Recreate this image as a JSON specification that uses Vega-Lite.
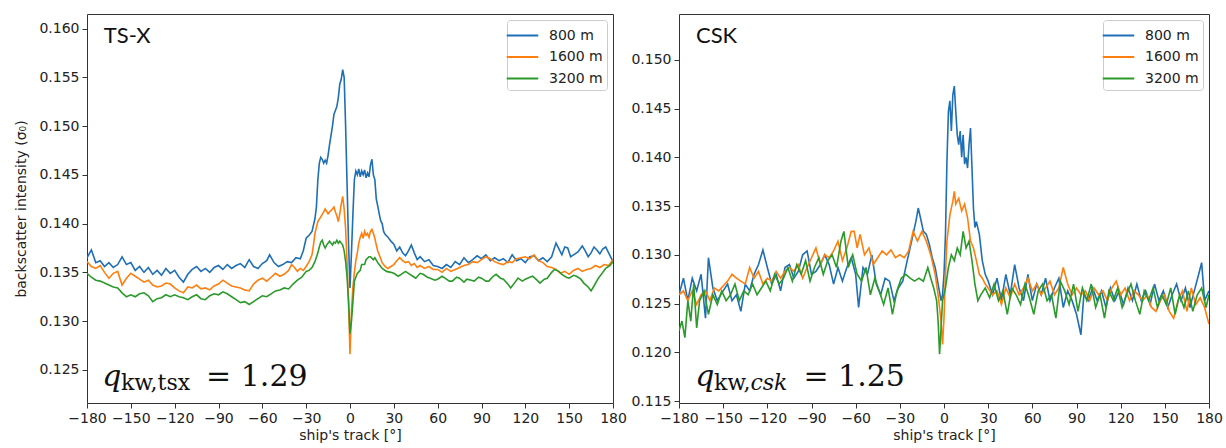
{
"$schema": "https://vega.github.io/schema/vega-lite/v6.json",
"padding": {"left": 14, "top": 13, "right": 2, "bottom": 2},
"background": "white",
"spacing": 66,
"bounds": "flush",
"config": {
  "view": {"stroke": "#333", "strokeWidth": 1},
  "font": "DejaVu Sans",
  "axis": {"grid": false, "domain": false, "tickColor": "#333", "tickSize": 5, "labelFontSize": 14, "labelColor": "#222", "titleFontSize": 14, "titleFontWeight": "normal", "titleColor": "#222", "labelFont": "DejaVu Sans", "titleFont": "DejaVu Sans", "labelPadding": 3, "labelOverlap": false, "labelFlush": false},
  "legend": {"orient": "top-right", "offset": 6, "fillColor": "white", "strokeColor": "#ccc", "cornerRadius": 3, "padding": 4, "labelFontSize": 14, "labelFont": "DejaVu Sans", "labelColor": "#222", "symbolType": "M-1.5,0H1.5", "symbolSize": 441, "symbolStrokeWidth": 2, "rowPadding": 2.5, "labelOffset": 15}
},
"datasets": {
"tsx": [
{"s":"800 m","x":-180,"y":0.1365},{"s":"800 m","x":-177,"y":0.1373},{"s":"800 m","x":-174,"y":0.136},{"s":"800 m","x":-171,"y":0.1362},{"s":"800 m","x":-168,"y":0.1356},{"s":"800 m","x":-165,"y":0.136},{"s":"800 m","x":-162,"y":0.1355},{"s":"800 m","x":-159,"y":0.1358},{"s":"800 m","x":-156,"y":0.1366},{"s":"800 m","x":-153,"y":0.1358},{"s":"800 m","x":-150,"y":0.136},{"s":"800 m","x":-147,"y":0.1352},{"s":"800 m","x":-144,"y":0.1356},{"s":"800 m","x":-141,"y":0.135},{"s":"800 m","x":-138,"y":0.1355},{"s":"800 m","x":-135,"y":0.1348},{"s":"800 m","x":-132,"y":0.1352},{"s":"800 m","x":-129,"y":0.1347},{"s":"800 m","x":-126,"y":0.1354},{"s":"800 m","x":-123,"y":0.1349},{"s":"800 m","x":-120,"y":0.1352},{"s":"800 m","x":-117,"y":0.1345},{"s":"800 m","x":-114,"y":0.134},{"s":"800 m","x":-111,"y":0.1348},{"s":"800 m","x":-108,"y":0.1353},{"s":"800 m","x":-105,"y":0.1356},{"s":"800 m","x":-102,"y":0.1351},{"s":"800 m","x":-99,"y":0.1354},{"s":"800 m","x":-96,"y":0.135},{"s":"800 m","x":-93,"y":0.1355},{"s":"800 m","x":-90,"y":0.1357},{"s":"800 m","x":-87,"y":0.1353},{"s":"800 m","x":-84,"y":0.1358},{"s":"800 m","x":-81,"y":0.1354},{"s":"800 m","x":-78,"y":0.1357},{"s":"800 m","x":-75,"y":0.1359},{"s":"800 m","x":-72,"y":0.1355},{"s":"800 m","x":-69,"y":0.1363},{"s":"800 m","x":-66,"y":0.1356},{"s":"800 m","x":-63,"y":0.1354},{"s":"800 m","x":-60,"y":0.1359},{"s":"800 m","x":-57,"y":0.1362},{"s":"800 m","x":-55,"y":0.1368},{"s":"800 m","x":-52,"y":0.136},{"s":"800 m","x":-49,"y":0.1356},{"s":"800 m","x":-46,"y":0.1358},{"s":"800 m","x":-43,"y":0.1361},{"s":"800 m","x":-40,"y":0.136},{"s":"800 m","x":-37,"y":0.1365},{"s":"800 m","x":-34,"y":0.1364},{"s":"800 m","x":-32,"y":0.1372},{"s":"800 m","x":-30,"y":0.1385},{"s":"800 m","x":-28,"y":0.1388},{"s":"800 m","x":-26,"y":0.1392},{"s":"800 m","x":-24,"y":0.1405},{"s":"800 m","x":-23,"y":0.1417},{"s":"800 m","x":-22,"y":0.1445},{"s":"800 m","x":-21,"y":0.1462},{"s":"800 m","x":-20,"y":0.1468},{"s":"800 m","x":-19,"y":0.1466},{"s":"800 m","x":-18,"y":0.1462},{"s":"800 m","x":-17,"y":0.1465},{"s":"800 m","x":-16,"y":0.1462},{"s":"800 m","x":-15,"y":0.147},{"s":"800 m","x":-14,"y":0.1481},{"s":"800 m","x":-12,"y":0.15},{"s":"800 m","x":-11,"y":0.1512},{"s":"800 m","x":-10,"y":0.1516},{"s":"800 m","x":-9,"y":0.152},{"s":"800 m","x":-8,"y":0.1529},{"s":"800 m","x":-7,"y":0.1543},{"s":"800 m","x":-6,"y":0.1548},{"s":"800 m","x":-5,"y":0.1558},{"s":"800 m","x":-4,"y":0.155},{"s":"800 m","x":-3,"y":0.15},{"s":"800 m","x":-2,"y":0.144},{"s":"800 m","x":-1,"y":0.138},{"s":"800 m","x":0,"y":0.1334},{"s":"800 m","x":1,"y":0.137},{"s":"800 m","x":2,"y":0.141},{"s":"800 m","x":3,"y":0.1445},{"s":"800 m","x":4,"y":0.1454},{"s":"800 m","x":5,"y":0.145},{"s":"800 m","x":6,"y":0.1456},{"s":"800 m","x":7,"y":0.1448},{"s":"800 m","x":8,"y":0.1454},{"s":"800 m","x":9,"y":0.145},{"s":"800 m","x":10,"y":0.1455},{"s":"800 m","x":11,"y":0.1447},{"s":"800 m","x":12,"y":0.1452},{"s":"800 m","x":13,"y":0.1448},{"s":"800 m","x":14,"y":0.146},{"s":"800 m","x":15,"y":0.1466},{"s":"800 m","x":16,"y":0.145},{"s":"800 m","x":17,"y":0.1445},{"s":"800 m","x":18,"y":0.1425},{"s":"800 m","x":19,"y":0.1418},{"s":"800 m","x":20,"y":0.141},{"s":"800 m","x":21,"y":0.1403},{"s":"800 m","x":22,"y":0.14},{"s":"800 m","x":23,"y":0.1392},{"s":"800 m","x":24,"y":0.1389},{"s":"800 m","x":26,"y":0.1386},{"s":"800 m","x":28,"y":0.1382},{"s":"800 m","x":30,"y":0.1379},{"s":"800 m","x":32,"y":0.1372},{"s":"800 m","x":34,"y":0.1376},{"s":"800 m","x":36,"y":0.137},{"s":"800 m","x":38,"y":0.1367},{"s":"800 m","x":40,"y":0.1372},{"s":"800 m","x":42,"y":0.1378},{"s":"800 m","x":44,"y":0.137},{"s":"800 m","x":46,"y":0.1363},{"s":"800 m","x":48,"y":0.1366},{"s":"800 m","x":51,"y":0.1361},{"s":"800 m","x":54,"y":0.1363},{"s":"800 m","x":57,"y":0.1357},{"s":"800 m","x":60,"y":0.1356},{"s":"800 m","x":63,"y":0.1354},{"s":"800 m","x":66,"y":0.1358},{"s":"800 m","x":69,"y":0.1355},{"s":"800 m","x":72,"y":0.1361},{"s":"800 m","x":75,"y":0.1358},{"s":"800 m","x":78,"y":0.1365},{"s":"800 m","x":81,"y":0.136},{"s":"800 m","x":84,"y":0.1363},{"s":"800 m","x":87,"y":0.1367},{"s":"800 m","x":90,"y":0.1364},{"s":"800 m","x":93,"y":0.1368},{"s":"800 m","x":96,"y":0.1362},{"s":"800 m","x":99,"y":0.1365},{"s":"800 m","x":102,"y":0.1362},{"s":"800 m","x":105,"y":0.1364},{"s":"800 m","x":108,"y":0.136},{"s":"800 m","x":111,"y":0.1368},{"s":"800 m","x":114,"y":0.1362},{"s":"800 m","x":117,"y":0.1364},{"s":"800 m","x":120,"y":0.136},{"s":"800 m","x":123,"y":0.1366},{"s":"800 m","x":126,"y":0.1367},{"s":"800 m","x":129,"y":0.1362},{"s":"800 m","x":132,"y":0.1365},{"s":"800 m","x":135,"y":0.1361},{"s":"800 m","x":138,"y":0.1366},{"s":"800 m","x":141,"y":0.138},{"s":"800 m","x":143,"y":0.1374},{"s":"800 m","x":145,"y":0.1368},{"s":"800 m","x":147,"y":0.1376},{"s":"800 m","x":149,"y":0.1375},{"s":"800 m","x":151,"y":0.1366},{"s":"800 m","x":153,"y":0.1368},{"s":"800 m","x":156,"y":0.1371},{"s":"800 m","x":159,"y":0.1377},{"s":"800 m","x":161,"y":0.1372},{"s":"800 m","x":163,"y":0.1366},{"s":"800 m","x":165,"y":0.137},{"s":"800 m","x":167,"y":0.1376},{"s":"800 m","x":169,"y":0.1373},{"s":"800 m","x":171,"y":0.1369},{"s":"800 m","x":173,"y":0.1374},{"s":"800 m","x":175,"y":0.1376},{"s":"800 m","x":177,"y":0.137},{"s":"800 m","x":180,"y":0.1361},
{"s":"1600 m","x":-180,"y":0.1361},{"s":"1600 m","x":-177,"y":0.1356},{"s":"1600 m","x":-174,"y":0.1354},{"s":"1600 m","x":-171,"y":0.1357},{"s":"1600 m","x":-168,"y":0.135},{"s":"1600 m","x":-165,"y":0.1344},{"s":"1600 m","x":-162,"y":0.1349},{"s":"1600 m","x":-159,"y":0.1351},{"s":"1600 m","x":-156,"y":0.1337},{"s":"1600 m","x":-153,"y":0.1344},{"s":"1600 m","x":-150,"y":0.1349},{"s":"1600 m","x":-147,"y":0.1346},{"s":"1600 m","x":-144,"y":0.1343},{"s":"1600 m","x":-141,"y":0.134},{"s":"1600 m","x":-138,"y":0.1342},{"s":"1600 m","x":-135,"y":0.1337},{"s":"1600 m","x":-132,"y":0.1335},{"s":"1600 m","x":-129,"y":0.1336},{"s":"1600 m","x":-126,"y":0.1339},{"s":"1600 m","x":-123,"y":0.1338},{"s":"1600 m","x":-120,"y":0.1334},{"s":"1600 m","x":-117,"y":0.1331},{"s":"1600 m","x":-114,"y":0.1329},{"s":"1600 m","x":-111,"y":0.1335},{"s":"1600 m","x":-108,"y":0.1334},{"s":"1600 m","x":-105,"y":0.1337},{"s":"1600 m","x":-102,"y":0.1333},{"s":"1600 m","x":-99,"y":0.1334},{"s":"1600 m","x":-96,"y":0.1332},{"s":"1600 m","x":-93,"y":0.1336},{"s":"1600 m","x":-90,"y":0.1338},{"s":"1600 m","x":-87,"y":0.1342},{"s":"1600 m","x":-84,"y":0.1339},{"s":"1600 m","x":-81,"y":0.1336},{"s":"1600 m","x":-78,"y":0.1335},{"s":"1600 m","x":-75,"y":0.1334},{"s":"1600 m","x":-72,"y":0.1332},{"s":"1600 m","x":-69,"y":0.1331},{"s":"1600 m","x":-66,"y":0.1338},{"s":"1600 m","x":-63,"y":0.1342},{"s":"1600 m","x":-60,"y":0.1344},{"s":"1600 m","x":-57,"y":0.1341},{"s":"1600 m","x":-54,"y":0.1345},{"s":"1600 m","x":-51,"y":0.1349},{"s":"1600 m","x":-48,"y":0.1346},{"s":"1600 m","x":-45,"y":0.1348},{"s":"1600 m","x":-42,"y":0.1352},{"s":"1600 m","x":-40,"y":0.1358},{"s":"1600 m","x":-38,"y":0.1355},{"s":"1600 m","x":-36,"y":0.1351},{"s":"1600 m","x":-34,"y":0.1354},{"s":"1600 m","x":-32,"y":0.1352},{"s":"1600 m","x":-30,"y":0.1356},{"s":"1600 m","x":-28,"y":0.1361},{"s":"1600 m","x":-26,"y":0.1368},{"s":"1600 m","x":-25,"y":0.1378},{"s":"1600 m","x":-24,"y":0.139},{"s":"1600 m","x":-22,"y":0.1402},{"s":"1600 m","x":-20,"y":0.1407},{"s":"1600 m","x":-18,"y":0.1412},{"s":"1600 m","x":-17,"y":0.1415},{"s":"1600 m","x":-15,"y":0.141},{"s":"1600 m","x":-14,"y":0.1412},{"s":"1600 m","x":-12,"y":0.1415},{"s":"1600 m","x":-11,"y":0.1417},{"s":"1600 m","x":-10,"y":0.1412},{"s":"1600 m","x":-9,"y":0.1408},{"s":"1600 m","x":-8,"y":0.1402},{"s":"1600 m","x":-7,"y":0.141},{"s":"1600 m","x":-6,"y":0.142},{"s":"1600 m","x":-5,"y":0.1428},{"s":"1600 m","x":-4,"y":0.1415},{"s":"1600 m","x":-3,"y":0.1395},{"s":"1600 m","x":-2,"y":0.136},{"s":"1600 m","x":-1,"y":0.132},{"s":"1600 m","x":0,"y":0.1266},{"s":"1600 m","x":1,"y":0.131},{"s":"1600 m","x":2,"y":0.1335},{"s":"1600 m","x":3,"y":0.135},{"s":"1600 m","x":4,"y":0.1362},{"s":"1600 m","x":5,"y":0.137},{"s":"1600 m","x":6,"y":0.138},{"s":"1600 m","x":7,"y":0.1386},{"s":"1600 m","x":8,"y":0.139},{"s":"1600 m","x":9,"y":0.1385},{"s":"1600 m","x":10,"y":0.1392},{"s":"1600 m","x":11,"y":0.1388},{"s":"1600 m","x":12,"y":0.139},{"s":"1600 m","x":13,"y":0.1386},{"s":"1600 m","x":14,"y":0.1392},{"s":"1600 m","x":15,"y":0.1394},{"s":"1600 m","x":16,"y":0.139},{"s":"1600 m","x":17,"y":0.1385},{"s":"1600 m","x":18,"y":0.1378},{"s":"1600 m","x":19,"y":0.1372},{"s":"1600 m","x":20,"y":0.1368},{"s":"1600 m","x":22,"y":0.136},{"s":"1600 m","x":24,"y":0.1356},{"s":"1600 m","x":26,"y":0.1354},{"s":"1600 m","x":28,"y":0.1356},{"s":"1600 m","x":30,"y":0.1358},{"s":"1600 m","x":32,"y":0.1362},{"s":"1600 m","x":34,"y":0.1365},{"s":"1600 m","x":36,"y":0.1362},{"s":"1600 m","x":38,"y":0.136},{"s":"1600 m","x":40,"y":0.1361},{"s":"1600 m","x":42,"y":0.1357},{"s":"1600 m","x":44,"y":0.1359},{"s":"1600 m","x":46,"y":0.1355},{"s":"1600 m","x":48,"y":0.1357},{"s":"1600 m","x":51,"y":0.1354},{"s":"1600 m","x":54,"y":0.1356},{"s":"1600 m","x":57,"y":0.1353},{"s":"1600 m","x":60,"y":0.1353},{"s":"1600 m","x":63,"y":0.135},{"s":"1600 m","x":66,"y":0.1354},{"s":"1600 m","x":69,"y":0.1351},{"s":"1600 m","x":72,"y":0.1353},{"s":"1600 m","x":75,"y":0.1355},{"s":"1600 m","x":78,"y":0.1357},{"s":"1600 m","x":81,"y":0.1358},{"s":"1600 m","x":84,"y":0.1361},{"s":"1600 m","x":87,"y":0.136},{"s":"1600 m","x":90,"y":0.1363},{"s":"1600 m","x":93,"y":0.1366},{"s":"1600 m","x":96,"y":0.1364},{"s":"1600 m","x":99,"y":0.1361},{"s":"1600 m","x":102,"y":0.1359},{"s":"1600 m","x":105,"y":0.1358},{"s":"1600 m","x":108,"y":0.1361},{"s":"1600 m","x":111,"y":0.136},{"s":"1600 m","x":114,"y":0.1364},{"s":"1600 m","x":117,"y":0.1365},{"s":"1600 m","x":120,"y":0.1366},{"s":"1600 m","x":123,"y":0.1364},{"s":"1600 m","x":126,"y":0.1368},{"s":"1600 m","x":129,"y":0.1362},{"s":"1600 m","x":132,"y":0.136},{"s":"1600 m","x":135,"y":0.1356},{"s":"1600 m","x":138,"y":0.1355},{"s":"1600 m","x":141,"y":0.1353},{"s":"1600 m","x":144,"y":0.1349},{"s":"1600 m","x":147,"y":0.1351},{"s":"1600 m","x":150,"y":0.1348},{"s":"1600 m","x":153,"y":0.1352},{"s":"1600 m","x":156,"y":0.1354},{"s":"1600 m","x":159,"y":0.1351},{"s":"1600 m","x":162,"y":0.1353},{"s":"1600 m","x":165,"y":0.1354},{"s":"1600 m","x":168,"y":0.1357},{"s":"1600 m","x":171,"y":0.1355},{"s":"1600 m","x":174,"y":0.1358},{"s":"1600 m","x":177,"y":0.1357},{"s":"1600 m","x":180,"y":0.1363},
{"s":"3200 m","x":-180,"y":0.1349},{"s":"3200 m","x":-177,"y":0.1345},{"s":"3200 m","x":-174,"y":0.1342},{"s":"3200 m","x":-171,"y":0.1341},{"s":"3200 m","x":-168,"y":0.1339},{"s":"3200 m","x":-165,"y":0.1337},{"s":"3200 m","x":-162,"y":0.1335},{"s":"3200 m","x":-159,"y":0.1334},{"s":"3200 m","x":-156,"y":0.1329},{"s":"3200 m","x":-153,"y":0.1325},{"s":"3200 m","x":-150,"y":0.1327},{"s":"3200 m","x":-147,"y":0.1325},{"s":"3200 m","x":-144,"y":0.1328},{"s":"3200 m","x":-141,"y":0.1329},{"s":"3200 m","x":-138,"y":0.1326},{"s":"3200 m","x":-135,"y":0.132},{"s":"3200 m","x":-132,"y":0.1323},{"s":"3200 m","x":-129,"y":0.1324},{"s":"3200 m","x":-126,"y":0.1327},{"s":"3200 m","x":-123,"y":0.1325},{"s":"3200 m","x":-120,"y":0.1327},{"s":"3200 m","x":-117,"y":0.1325},{"s":"3200 m","x":-114,"y":0.1324},{"s":"3200 m","x":-111,"y":0.1322},{"s":"3200 m","x":-108,"y":0.1325},{"s":"3200 m","x":-105,"y":0.1327},{"s":"3200 m","x":-102,"y":0.1323},{"s":"3200 m","x":-99,"y":0.1322},{"s":"3200 m","x":-96,"y":0.1326},{"s":"3200 m","x":-93,"y":0.1328},{"s":"3200 m","x":-90,"y":0.1327},{"s":"3200 m","x":-87,"y":0.133},{"s":"3200 m","x":-84,"y":0.1328},{"s":"3200 m","x":-81,"y":0.1325},{"s":"3200 m","x":-78,"y":0.1322},{"s":"3200 m","x":-75,"y":0.1319},{"s":"3200 m","x":-72,"y":0.132},{"s":"3200 m","x":-69,"y":0.1317},{"s":"3200 m","x":-66,"y":0.132},{"s":"3200 m","x":-63,"y":0.1323},{"s":"3200 m","x":-60,"y":0.1326},{"s":"3200 m","x":-57,"y":0.1325},{"s":"3200 m","x":-54,"y":0.1328},{"s":"3200 m","x":-51,"y":0.1331},{"s":"3200 m","x":-48,"y":0.1332},{"s":"3200 m","x":-45,"y":0.1334},{"s":"3200 m","x":-42,"y":0.1333},{"s":"3200 m","x":-39,"y":0.1338},{"s":"3200 m","x":-36,"y":0.1342},{"s":"3200 m","x":-33,"y":0.1345},{"s":"3200 m","x":-30,"y":0.1351},{"s":"3200 m","x":-28,"y":0.1352},{"s":"3200 m","x":-26,"y":0.1355},{"s":"3200 m","x":-24,"y":0.1361},{"s":"3200 m","x":-22,"y":0.137},{"s":"3200 m","x":-21,"y":0.1376},{"s":"3200 m","x":-20,"y":0.1381},{"s":"3200 m","x":-19,"y":0.1383},{"s":"3200 m","x":-18,"y":0.1378},{"s":"3200 m","x":-17,"y":0.1375},{"s":"3200 m","x":-16,"y":0.1378},{"s":"3200 m","x":-14,"y":0.1382},{"s":"3200 m","x":-13,"y":0.138},{"s":"3200 m","x":-12,"y":0.1378},{"s":"3200 m","x":-11,"y":0.1381},{"s":"3200 m","x":-10,"y":0.138},{"s":"3200 m","x":-9,"y":0.1383},{"s":"3200 m","x":-8,"y":0.138},{"s":"3200 m","x":-7,"y":0.1382},{"s":"3200 m","x":-6,"y":0.138},{"s":"3200 m","x":-5,"y":0.1378},{"s":"3200 m","x":-4,"y":0.1372},{"s":"3200 m","x":-3,"y":0.1361},{"s":"3200 m","x":-2,"y":0.1345},{"s":"3200 m","x":-1,"y":0.132},{"s":"3200 m","x":0,"y":0.1287},{"s":"3200 m","x":1,"y":0.13},{"s":"3200 m","x":2,"y":0.132},{"s":"3200 m","x":3,"y":0.1341},{"s":"3200 m","x":4,"y":0.1345},{"s":"3200 m","x":5,"y":0.1349},{"s":"3200 m","x":7,"y":0.1352},{"s":"3200 m","x":8,"y":0.1358},{"s":"3200 m","x":10,"y":0.1358},{"s":"3200 m","x":11,"y":0.1363},{"s":"3200 m","x":13,"y":0.1366},{"s":"3200 m","x":14,"y":0.1366},{"s":"3200 m","x":16,"y":0.1363},{"s":"3200 m","x":17,"y":0.1365},{"s":"3200 m","x":19,"y":0.136},{"s":"3200 m","x":20,"y":0.1358},{"s":"3200 m","x":22,"y":0.1354},{"s":"3200 m","x":25,"y":0.1351},{"s":"3200 m","x":28,"y":0.135},{"s":"3200 m","x":30,"y":0.1349},{"s":"3200 m","x":33,"y":0.1346},{"s":"3200 m","x":35,"y":0.1348},{"s":"3200 m","x":38,"y":0.1351},{"s":"3200 m","x":40,"y":0.1349},{"s":"3200 m","x":43,"y":0.1346},{"s":"3200 m","x":45,"y":0.1344},{"s":"3200 m","x":48,"y":0.1349},{"s":"3200 m","x":50,"y":0.1348},{"s":"3200 m","x":53,"y":0.1345},{"s":"3200 m","x":55,"y":0.1344},{"s":"3200 m","x":58,"y":0.1342},{"s":"3200 m","x":60,"y":0.1343},{"s":"3200 m","x":63,"y":0.1346},{"s":"3200 m","x":65,"y":0.1344},{"s":"3200 m","x":68,"y":0.1341},{"s":"3200 m","x":70,"y":0.1341},{"s":"3200 m","x":73,"y":0.1345},{"s":"3200 m","x":75,"y":0.1344},{"s":"3200 m","x":78,"y":0.134},{"s":"3200 m","x":80,"y":0.1343},{"s":"3200 m","x":83,"y":0.1342},{"s":"3200 m","x":85,"y":0.1341},{"s":"3200 m","x":88,"y":0.1345},{"s":"3200 m","x":90,"y":0.1344},{"s":"3200 m","x":93,"y":0.1341},{"s":"3200 m","x":95,"y":0.1341},{"s":"3200 m","x":98,"y":0.1346},{"s":"3200 m","x":100,"y":0.1348},{"s":"3200 m","x":103,"y":0.1344},{"s":"3200 m","x":105,"y":0.1343},{"s":"3200 m","x":108,"y":0.1338},{"s":"3200 m","x":110,"y":0.1334},{"s":"3200 m","x":113,"y":0.134},{"s":"3200 m","x":115,"y":0.1344},{"s":"3200 m","x":118,"y":0.1341},{"s":"3200 m","x":120,"y":0.1343},{"s":"3200 m","x":123,"y":0.1345},{"s":"3200 m","x":125,"y":0.1346},{"s":"3200 m","x":128,"y":0.1342},{"s":"3200 m","x":130,"y":0.1339},{"s":"3200 m","x":133,"y":0.1343},{"s":"3200 m","x":135,"y":0.1344},{"s":"3200 m","x":138,"y":0.135},{"s":"3200 m","x":140,"y":0.1353},{"s":"3200 m","x":143,"y":0.1351},{"s":"3200 m","x":145,"y":0.1348},{"s":"3200 m","x":148,"y":0.1345},{"s":"3200 m","x":150,"y":0.1344},{"s":"3200 m","x":153,"y":0.1347},{"s":"3200 m","x":155,"y":0.1346},{"s":"3200 m","x":158,"y":0.1343},{"s":"3200 m","x":160,"y":0.1339},{"s":"3200 m","x":163,"y":0.1335},{"s":"3200 m","x":165,"y":0.1331},{"s":"3200 m","x":167,"y":0.1336},{"s":"3200 m","x":170,"y":0.1344},{"s":"3200 m","x":173,"y":0.135},{"s":"3200 m","x":175,"y":0.1354},{"s":"3200 m","x":178,"y":0.1357},{"s":"3200 m","x":180,"y":0.1361}
],
"csk": [
{"s":"800 m","x":-180,"y":0.1259},{"s":"800 m","x":-177,"y":0.1276},{"s":"800 m","x":-174,"y":0.1253},{"s":"800 m","x":-171,"y":0.1276},{"s":"800 m","x":-168,"y":0.1263},{"s":"800 m","x":-165,"y":0.128},{"s":"800 m","x":-162,"y":0.1235},{"s":"800 m","x":-160,"y":0.1297},{"s":"800 m","x":-157,"y":0.1266},{"s":"800 m","x":-154,"y":0.1253},{"s":"800 m","x":-150,"y":0.1263},{"s":"800 m","x":-147,"y":0.127},{"s":"800 m","x":-144,"y":0.1253},{"s":"800 m","x":-141,"y":0.1259},{"s":"800 m","x":-138,"y":0.1242},{"s":"800 m","x":-135,"y":0.127},{"s":"800 m","x":-132,"y":0.1263},{"s":"800 m","x":-129,"y":0.128},{"s":"800 m","x":-126,"y":0.129},{"s":"800 m","x":-123,"y":0.1305},{"s":"800 m","x":-120,"y":0.1287},{"s":"800 m","x":-117,"y":0.127},{"s":"800 m","x":-114,"y":0.128},{"s":"800 m","x":-111,"y":0.1263},{"s":"800 m","x":-108,"y":0.1287},{"s":"800 m","x":-105,"y":0.129},{"s":"800 m","x":-102,"y":0.1276},{"s":"800 m","x":-99,"y":0.1283},{"s":"800 m","x":-96,"y":0.13},{"s":"800 m","x":-93,"y":0.1304},{"s":"800 m","x":-90,"y":0.128},{"s":"800 m","x":-87,"y":0.1283},{"s":"800 m","x":-84,"y":0.129},{"s":"800 m","x":-81,"y":0.13},{"s":"800 m","x":-78,"y":0.129},{"s":"800 m","x":-75,"y":0.127},{"s":"800 m","x":-72,"y":0.1287},{"s":"800 m","x":-69,"y":0.1273},{"s":"800 m","x":-66,"y":0.1287},{"s":"800 m","x":-63,"y":0.1297},{"s":"800 m","x":-60,"y":0.128},{"s":"800 m","x":-58,"y":0.1246},{"s":"800 m","x":-55,"y":0.1287},{"s":"800 m","x":-52,"y":0.128},{"s":"800 m","x":-49,"y":0.13},{"s":"800 m","x":-46,"y":0.127},{"s":"800 m","x":-43,"y":0.1259},{"s":"800 m","x":-40,"y":0.1276},{"s":"800 m","x":-37,"y":0.1273},{"s":"800 m","x":-34,"y":0.1253},{"s":"800 m","x":-31,"y":0.1266},{"s":"800 m","x":-28,"y":0.1273},{"s":"800 m","x":-25,"y":0.1294},{"s":"800 m","x":-22,"y":0.1314},{"s":"800 m","x":-19,"y":0.1335},{"s":"800 m","x":-17.5,"y":0.1348},{"s":"800 m","x":-16,"y":0.1338},{"s":"800 m","x":-14,"y":0.1324},{"s":"800 m","x":-12,"y":0.1321},{"s":"800 m","x":-10,"y":0.1311},{"s":"800 m","x":-8,"y":0.1297},{"s":"800 m","x":-6,"y":0.1287},{"s":"800 m","x":-4,"y":0.127},{"s":"800 m","x":-2,"y":0.1253},{"s":"800 m","x":-1,"y":0.1259},{"s":"800 m","x":0,"y":0.128},{"s":"800 m","x":1,"y":0.1321},{"s":"800 m","x":2,"y":0.1396},{"s":"800 m","x":3,"y":0.1447},{"s":"800 m","x":4,"y":0.1458},{"s":"800 m","x":5,"y":0.1427},{"s":"800 m","x":6,"y":0.1464},{"s":"800 m","x":7,"y":0.1473},{"s":"800 m","x":8,"y":0.1447},{"s":"800 m","x":9,"y":0.1423},{"s":"800 m","x":10,"y":0.1413},{"s":"800 m","x":11,"y":0.1427},{"s":"800 m","x":12,"y":0.14},{"s":"800 m","x":13,"y":0.1423},{"s":"800 m","x":14,"y":0.1393},{"s":"800 m","x":15,"y":0.14},{"s":"800 m","x":16,"y":0.1389},{"s":"800 m","x":17,"y":0.1413},{"s":"800 m","x":18,"y":0.143},{"s":"800 m","x":19,"y":0.1389},{"s":"800 m","x":20,"y":0.1348},{"s":"800 m","x":21,"y":0.1328},{"s":"800 m","x":22,"y":0.1334},{"s":"800 m","x":24,"y":0.1321},{"s":"800 m","x":26,"y":0.1294},{"s":"800 m","x":28,"y":0.128},{"s":"800 m","x":30,"y":0.1273},{"s":"800 m","x":33,"y":0.1259},{"s":"800 m","x":36,"y":0.1276},{"s":"800 m","x":39,"y":0.1253},{"s":"800 m","x":42,"y":0.128},{"s":"800 m","x":45,"y":0.1259},{"s":"800 m","x":48,"y":0.129},{"s":"800 m","x":51,"y":0.1266},{"s":"800 m","x":54,"y":0.1253},{"s":"800 m","x":57,"y":0.128},{"s":"800 m","x":60,"y":0.1253},{"s":"800 m","x":63,"y":0.127},{"s":"800 m","x":66,"y":0.1259},{"s":"800 m","x":69,"y":0.1276},{"s":"800 m","x":72,"y":0.1253},{"s":"800 m","x":75,"y":0.1266},{"s":"800 m","x":78,"y":0.1276},{"s":"800 m","x":81,"y":0.1246},{"s":"800 m","x":84,"y":0.1263},{"s":"800 m","x":87,"y":0.1253},{"s":"800 m","x":90,"y":0.1239},{"s":"800 m","x":93,"y":0.1218},{"s":"800 m","x":95,"y":0.1259},{"s":"800 m","x":98,"y":0.1253},{"s":"800 m","x":101,"y":0.1266},{"s":"800 m","x":104,"y":0.1253},{"s":"800 m","x":107,"y":0.1263},{"s":"800 m","x":110,"y":0.1246},{"s":"800 m","x":113,"y":0.1266},{"s":"800 m","x":116,"y":0.1253},{"s":"800 m","x":119,"y":0.1263},{"s":"800 m","x":122,"y":0.1249},{"s":"800 m","x":125,"y":0.1266},{"s":"800 m","x":128,"y":0.1253},{"s":"800 m","x":131,"y":0.127},{"s":"800 m","x":134,"y":0.1253},{"s":"800 m","x":137,"y":0.1263},{"s":"800 m","x":140,"y":0.1249},{"s":"800 m","x":143,"y":0.127},{"s":"800 m","x":146,"y":0.1253},{"s":"800 m","x":149,"y":0.1263},{"s":"800 m","x":152,"y":0.1246},{"s":"800 m","x":155,"y":0.1259},{"s":"800 m","x":158,"y":0.127},{"s":"800 m","x":161,"y":0.1253},{"s":"800 m","x":164,"y":0.1266},{"s":"800 m","x":167,"y":0.1246},{"s":"800 m","x":170,"y":0.1263},{"s":"800 m","x":173,"y":0.128},{"s":"800 m","x":175,"y":0.1292},{"s":"800 m","x":177,"y":0.1253},{"s":"800 m","x":180,"y":0.1263},
{"s":"1600 m","x":-180,"y":0.1259},{"s":"1600 m","x":-177,"y":0.1263},{"s":"1600 m","x":-174,"y":0.1253},{"s":"1600 m","x":-171,"y":0.1263},{"s":"1600 m","x":-168,"y":0.1249},{"s":"1600 m","x":-165,"y":0.1259},{"s":"1600 m","x":-162,"y":0.1263},{"s":"1600 m","x":-159,"y":0.1253},{"s":"1600 m","x":-156,"y":0.1266},{"s":"1600 m","x":-153,"y":0.1263},{"s":"1600 m","x":-150,"y":0.1268},{"s":"1600 m","x":-147,"y":0.1273},{"s":"1600 m","x":-144,"y":0.128},{"s":"1600 m","x":-141,"y":0.1276},{"s":"1600 m","x":-138,"y":0.1273},{"s":"1600 m","x":-135,"y":0.127},{"s":"1600 m","x":-132,"y":0.1287},{"s":"1600 m","x":-129,"y":0.1276},{"s":"1600 m","x":-126,"y":0.1283},{"s":"1600 m","x":-123,"y":0.127},{"s":"1600 m","x":-120,"y":0.1276},{"s":"1600 m","x":-117,"y":0.1273},{"s":"1600 m","x":-114,"y":0.1283},{"s":"1600 m","x":-111,"y":0.1276},{"s":"1600 m","x":-108,"y":0.1283},{"s":"1600 m","x":-105,"y":0.1287},{"s":"1600 m","x":-102,"y":0.1283},{"s":"1600 m","x":-99,"y":0.129},{"s":"1600 m","x":-96,"y":0.1276},{"s":"1600 m","x":-93,"y":0.1287},{"s":"1600 m","x":-90,"y":0.1297},{"s":"1600 m","x":-87,"y":0.1307},{"s":"1600 m","x":-84,"y":0.129},{"s":"1600 m","x":-81,"y":0.13},{"s":"1600 m","x":-78,"y":0.1297},{"s":"1600 m","x":-75,"y":0.1304},{"s":"1600 m","x":-72,"y":0.1314},{"s":"1600 m","x":-69,"y":0.1294},{"s":"1600 m","x":-66,"y":0.1307},{"s":"1600 m","x":-63,"y":0.1324},{"s":"1600 m","x":-61,"y":0.1324},{"s":"1600 m","x":-59,"y":0.1307},{"s":"1600 m","x":-57,"y":0.1321},{"s":"1600 m","x":-54,"y":0.13},{"s":"1600 m","x":-51,"y":0.1307},{"s":"1600 m","x":-48,"y":0.129},{"s":"1600 m","x":-45,"y":0.1297},{"s":"1600 m","x":-42,"y":0.1304},{"s":"1600 m","x":-39,"y":0.13},{"s":"1600 m","x":-36,"y":0.1305},{"s":"1600 m","x":-33,"y":0.1297},{"s":"1600 m","x":-30,"y":0.13},{"s":"1600 m","x":-27,"y":0.1297},{"s":"1600 m","x":-24,"y":0.1304},{"s":"1600 m","x":-21,"y":0.1324},{"s":"1600 m","x":-18,"y":0.1314},{"s":"1600 m","x":-15,"y":0.1324},{"s":"1600 m","x":-12,"y":0.1314},{"s":"1600 m","x":-9,"y":0.13},{"s":"1600 m","x":-6,"y":0.128},{"s":"1600 m","x":-4,"y":0.1259},{"s":"1600 m","x":-2,"y":0.1232},{"s":"1600 m","x":-1,"y":0.1208},{"s":"1600 m","x":0,"y":0.1235},{"s":"1600 m","x":1,"y":0.128},{"s":"1600 m","x":2,"y":0.1314},{"s":"1600 m","x":4,"y":0.1341},{"s":"1600 m","x":6,"y":0.1355},{"s":"1600 m","x":7,"y":0.1365},{"s":"1600 m","x":8,"y":0.1352},{"s":"1600 m","x":10,"y":0.1358},{"s":"1600 m","x":12,"y":0.1345},{"s":"1600 m","x":14,"y":0.1352},{"s":"1600 m","x":16,"y":0.1338},{"s":"1600 m","x":18,"y":0.1314},{"s":"1600 m","x":20,"y":0.1307},{"s":"1600 m","x":22,"y":0.1294},{"s":"1600 m","x":24,"y":0.128},{"s":"1600 m","x":26,"y":0.1276},{"s":"1600 m","x":28,"y":0.127},{"s":"1600 m","x":30,"y":0.1266},{"s":"1600 m","x":33,"y":0.1259},{"s":"1600 m","x":36,"y":0.1263},{"s":"1600 m","x":39,"y":0.1249},{"s":"1600 m","x":42,"y":0.1266},{"s":"1600 m","x":45,"y":0.1256},{"s":"1600 m","x":48,"y":0.127},{"s":"1600 m","x":51,"y":0.1259},{"s":"1600 m","x":54,"y":0.1266},{"s":"1600 m","x":57,"y":0.1276},{"s":"1600 m","x":60,"y":0.1263},{"s":"1600 m","x":63,"y":0.127},{"s":"1600 m","x":66,"y":0.1259},{"s":"1600 m","x":69,"y":0.1266},{"s":"1600 m","x":72,"y":0.1273},{"s":"1600 m","x":75,"y":0.1259},{"s":"1600 m","x":78,"y":0.1266},{"s":"1600 m","x":81,"y":0.1287},{"s":"1600 m","x":84,"y":0.127},{"s":"1600 m","x":87,"y":0.1259},{"s":"1600 m","x":90,"y":0.1266},{"s":"1600 m","x":93,"y":0.1259},{"s":"1600 m","x":96,"y":0.1263},{"s":"1600 m","x":99,"y":0.1253},{"s":"1600 m","x":102,"y":0.1266},{"s":"1600 m","x":105,"y":0.1259},{"s":"1600 m","x":108,"y":0.1263},{"s":"1600 m","x":111,"y":0.1253},{"s":"1600 m","x":114,"y":0.1266},{"s":"1600 m","x":117,"y":0.1273},{"s":"1600 m","x":120,"y":0.1259},{"s":"1600 m","x":123,"y":0.1266},{"s":"1600 m","x":126,"y":0.1253},{"s":"1600 m","x":129,"y":0.1263},{"s":"1600 m","x":132,"y":0.1259},{"s":"1600 m","x":135,"y":0.1253},{"s":"1600 m","x":138,"y":0.1259},{"s":"1600 m","x":141,"y":0.1246},{"s":"1600 m","x":144,"y":0.1242},{"s":"1600 m","x":147,"y":0.1253},{"s":"1600 m","x":150,"y":0.1259},{"s":"1600 m","x":153,"y":0.1242},{"s":"1600 m","x":156,"y":0.1235},{"s":"1600 m","x":159,"y":0.1253},{"s":"1600 m","x":162,"y":0.1263},{"s":"1600 m","x":165,"y":0.1242},{"s":"1600 m","x":168,"y":0.1266},{"s":"1600 m","x":171,"y":0.1249},{"s":"1600 m","x":174,"y":0.1256},{"s":"1600 m","x":177,"y":0.1246},{"s":"1600 m","x":180,"y":0.1229},
{"s":"3200 m","x":-180,"y":0.1222},{"s":"3200 m","x":-178,"y":0.1232},{"s":"3200 m","x":-176,"y":0.1215},{"s":"3200 m","x":-174,"y":0.1253},{"s":"3200 m","x":-172,"y":0.1232},{"s":"3200 m","x":-170,"y":0.127},{"s":"3200 m","x":-168,"y":0.1225},{"s":"3200 m","x":-166,"y":0.1253},{"s":"3200 m","x":-163,"y":0.1263},{"s":"3200 m","x":-160,"y":0.1239},{"s":"3200 m","x":-157,"y":0.1259},{"s":"3200 m","x":-154,"y":0.1249},{"s":"3200 m","x":-151,"y":0.1263},{"s":"3200 m","x":-148,"y":0.1253},{"s":"3200 m","x":-145,"y":0.1259},{"s":"3200 m","x":-142,"y":0.127},{"s":"3200 m","x":-139,"y":0.1253},{"s":"3200 m","x":-136,"y":0.1263},{"s":"3200 m","x":-133,"y":0.1259},{"s":"3200 m","x":-130,"y":0.127},{"s":"3200 m","x":-127,"y":0.1259},{"s":"3200 m","x":-124,"y":0.1266},{"s":"3200 m","x":-121,"y":0.1273},{"s":"3200 m","x":-118,"y":0.1263},{"s":"3200 m","x":-115,"y":0.128},{"s":"3200 m","x":-112,"y":0.127},{"s":"3200 m","x":-109,"y":0.1276},{"s":"3200 m","x":-106,"y":0.1287},{"s":"3200 m","x":-103,"y":0.1273},{"s":"3200 m","x":-100,"y":0.129},{"s":"3200 m","x":-97,"y":0.128},{"s":"3200 m","x":-94,"y":0.1294},{"s":"3200 m","x":-91,"y":0.1273},{"s":"3200 m","x":-88,"y":0.1287},{"s":"3200 m","x":-85,"y":0.1297},{"s":"3200 m","x":-82,"y":0.128},{"s":"3200 m","x":-79,"y":0.1294},{"s":"3200 m","x":-76,"y":0.13},{"s":"3200 m","x":-73,"y":0.1287},{"s":"3200 m","x":-70,"y":0.1314},{"s":"3200 m","x":-68,"y":0.1324},{"s":"3200 m","x":-65,"y":0.1287},{"s":"3200 m","x":-62,"y":0.13},{"s":"3200 m","x":-59,"y":0.128},{"s":"3200 m","x":-56,"y":0.1273},{"s":"3200 m","x":-53,"y":0.1287},{"s":"3200 m","x":-50,"y":0.1259},{"s":"3200 m","x":-47,"y":0.1276},{"s":"3200 m","x":-44,"y":0.1263},{"s":"3200 m","x":-41,"y":0.1249},{"s":"3200 m","x":-38,"y":0.1266},{"s":"3200 m","x":-35,"y":0.1239},{"s":"3200 m","x":-32,"y":0.1263},{"s":"3200 m","x":-29,"y":0.1276},{"s":"3200 m","x":-26,"y":0.128},{"s":"3200 m","x":-23,"y":0.1276},{"s":"3200 m","x":-20,"y":0.1273},{"s":"3200 m","x":-17,"y":0.1276},{"s":"3200 m","x":-14,"y":0.1273},{"s":"3200 m","x":-11,"y":0.1287},{"s":"3200 m","x":-9,"y":0.1276},{"s":"3200 m","x":-7,"y":0.1266},{"s":"3200 m","x":-5,"y":0.1253},{"s":"3200 m","x":-4,"y":0.1232},{"s":"3200 m","x":-3,"y":0.1198},{"s":"3200 m","x":-2,"y":0.1225},{"s":"3200 m","x":-1,"y":0.1253},{"s":"3200 m","x":1,"y":0.1266},{"s":"3200 m","x":3,"y":0.1287},{"s":"3200 m","x":5,"y":0.13},{"s":"3200 m","x":7,"y":0.1294},{"s":"3200 m","x":9,"y":0.1307},{"s":"3200 m","x":11,"y":0.13},{"s":"3200 m","x":13,"y":0.1324},{"s":"3200 m","x":15,"y":0.1307},{"s":"3200 m","x":17,"y":0.1314},{"s":"3200 m","x":19,"y":0.1294},{"s":"3200 m","x":21,"y":0.127},{"s":"3200 m","x":23,"y":0.1253},{"s":"3200 m","x":25,"y":0.1259},{"s":"3200 m","x":28,"y":0.1266},{"s":"3200 m","x":31,"y":0.1256},{"s":"3200 m","x":34,"y":0.127},{"s":"3200 m","x":37,"y":0.1253},{"s":"3200 m","x":40,"y":0.1263},{"s":"3200 m","x":43,"y":0.1239},{"s":"3200 m","x":46,"y":0.1266},{"s":"3200 m","x":49,"y":0.1259},{"s":"3200 m","x":52,"y":0.1249},{"s":"3200 m","x":55,"y":0.127},{"s":"3200 m","x":58,"y":0.1256},{"s":"3200 m","x":61,"y":0.1239},{"s":"3200 m","x":64,"y":0.1263},{"s":"3200 m","x":67,"y":0.127},{"s":"3200 m","x":70,"y":0.1253},{"s":"3200 m","x":73,"y":0.1259},{"s":"3200 m","x":76,"y":0.1235},{"s":"3200 m","x":79,"y":0.1273},{"s":"3200 m","x":82,"y":0.1263},{"s":"3200 m","x":85,"y":0.1249},{"s":"3200 m","x":88,"y":0.127},{"s":"3200 m","x":91,"y":0.1242},{"s":"3200 m","x":94,"y":0.1266},{"s":"3200 m","x":97,"y":0.1253},{"s":"3200 m","x":100,"y":0.127},{"s":"3200 m","x":103,"y":0.1246},{"s":"3200 m","x":106,"y":0.1259},{"s":"3200 m","x":109,"y":0.1235},{"s":"3200 m","x":112,"y":0.1263},{"s":"3200 m","x":115,"y":0.1253},{"s":"3200 m","x":118,"y":0.1266},{"s":"3200 m","x":121,"y":0.1246},{"s":"3200 m","x":124,"y":0.1259},{"s":"3200 m","x":127,"y":0.127},{"s":"3200 m","x":130,"y":0.1253},{"s":"3200 m","x":133,"y":0.1239},{"s":"3200 m","x":136,"y":0.1263},{"s":"3200 m","x":139,"y":0.1253},{"s":"3200 m","x":142,"y":0.1266},{"s":"3200 m","x":145,"y":0.1246},{"s":"3200 m","x":148,"y":0.1259},{"s":"3200 m","x":151,"y":0.1249},{"s":"3200 m","x":154,"y":0.1266},{"s":"3200 m","x":157,"y":0.1239},{"s":"3200 m","x":160,"y":0.1259},{"s":"3200 m","x":163,"y":0.1246},{"s":"3200 m","x":166,"y":0.1263},{"s":"3200 m","x":169,"y":0.1242},{"s":"3200 m","x":172,"y":0.1259},{"s":"3200 m","x":175,"y":0.1266},{"s":"3200 m","x":178,"y":0.1246},{"s":"3200 m","x":180,"y":0.1259}
]
},
"resolve": {"legend": {"color": "independent"}, "scale": {"y": "independent"}},
"hconcat": [
{
  "width": 526, "height": 389,
  "layer": [
    {"data": {"name": "tsx"}, "mark": {"type": "line", "strokeWidth": 1.6, "clip": true},
     "encoding": {
       "x": {"field": "x", "type": "quantitative", "scale": {"domain": [-180, 180], "nice": false, "zero": false}, "axis": {"values": [-180,-150,-120,-90,-60,-30,0,30,60,90,120,150,180], "labelExpr": "replace(format(datum.value, 'd'), '-', '−')", "title": "ship's track [°]", "titlePadding": 3}},
       "y": {"field": "y", "type": "quantitative", "scale": {"domain": [0.1216, 0.1615], "nice": false, "zero": false}, "axis": {"values": [0.125,0.13,0.135,0.14,0.145,0.15,0.155,0.16], "format": ".3f", "title": "backscatter intensity (σ₀)", "titlePadding": 10}},
       "color": {"field": "s", "type": "nominal", "scale": {"domain": ["800 m","1600 m","3200 m"], "range": ["#1f6fb4","#ff7f0e","#2a9a2a"]}, "legend": {"title": null}},
       "detail": {"field": "s"}
     }},
    {"data": {"values": [{"t": "TS-X"}]}, "mark": {"type": "text", "align": "left", "baseline": "alphabetic", "font": "Lato", "fontSize": 22, "color": "#111"},
     "encoding": {"x": {"datum": -168.5}, "y": {"datum": 0.1585}, "text": {"field": "t"}}},
    {"data": {"values": [{"t": "q"}]}, "mark": {"type": "text", "align": "left", "baseline": "alphabetic", "font": "DejaVu Serif", "fontStyle": "italic", "fontSize": 30, "color": "#111"},
     "encoding": {"x": {"datum": -169.5}, "y": {"datum": 0.12334}, "text": {"field": "t"}}},
    {"data": {"values": [{"t": "kw,tsx"}]}, "mark": {"type": "text", "align": "left", "baseline": "alphabetic", "font": "DejaVu Serif", "fontSize": 22, "color": "#111"},
     "encoding": {"x": {"datum": -156.7}, "y": {"datum": 0.12293}, "text": {"field": "t"}}},
    {"data": {"values": [{"t": "= 1.29"}]}, "mark": {"type": "text", "align": "left", "baseline": "alphabetic", "font": "DejaVu Serif", "fontSize": 30, "color": "#111"},
     "encoding": {"x": {"datum": -98.5}, "y": {"datum": 0.12334}, "text": {"field": "t"}}}
  ]
},
{
  "width": 530, "height": 389,
  "layer": [
    {"data": {"name": "csk"}, "mark": {"type": "line", "strokeWidth": 1.6, "clip": true},
     "encoding": {
       "x": {"field": "x", "type": "quantitative", "scale": {"domain": [-180, 180], "nice": false, "zero": false}, "axis": {"values": [-180,-150,-120,-90,-60,-30,0,30,60,90,120,150,180], "labelExpr": "replace(format(datum.value, 'd'), '-', '−')", "title": "ship's track [°]", "titlePadding": 3}},
       "y": {"field": "y", "type": "quantitative", "scale": {"domain": [0.1148, 0.1547], "nice": false, "zero": false}, "axis": {"values": [0.115,0.12,0.125,0.13,0.135,0.14,0.145,0.15], "format": ".3f", "title": null}},
       "color": {"field": "s", "type": "nominal", "scale": {"domain": ["800 m","1600 m","3200 m"], "range": ["#1f6fb4","#ff7f0e","#2a9a2a"]}, "legend": {"title": null}},
       "detail": {"field": "s"}
     }},
    {"data": {"values": [{"t": "CSK"}]}, "mark": {"type": "text", "align": "left", "baseline": "alphabetic", "font": "Lato", "fontSize": 22, "color": "#111"},
     "encoding": {"x": {"datum": -168.5}, "y": {"datum": 0.1517}, "text": {"field": "t"}}},
    {"data": {"values": [{"t": "q"}]}, "mark": {"type": "text", "align": "left", "baseline": "alphabetic", "font": "DejaVu Serif", "fontStyle": "italic", "fontSize": 30, "color": "#111"},
     "encoding": {"x": {"datum": -169}, "y": {"datum": 0.11654}, "text": {"field": "t"}}},
    {"data": {"values": [{"t": "kw,"}]}, "mark": {"type": "text", "align": "left", "baseline": "alphabetic", "font": "DejaVu Serif", "fontSize": 22, "color": "#111"},
     "encoding": {"x": {"datum": -156.2}, "y": {"datum": 0.11613}, "text": {"field": "t"}}},
    {"data": {"values": [{"t": "csk"}]}, "mark": {"type": "text", "align": "left", "baseline": "alphabetic", "font": "DejaVu Serif", "fontStyle": "italic", "fontSize": 22, "color": "#111"},
     "encoding": {"x": {"datum": -131.5}, "y": {"datum": 0.11613}, "text": {"field": "t"}}},
    {"data": {"values": [{"t": "= 1.25"}]}, "mark": {"type": "text", "align": "left", "baseline": "alphabetic", "font": "DejaVu Serif", "fontSize": 30, "color": "#111"},
     "encoding": {"x": {"datum": -95.5}, "y": {"datum": 0.11654}, "text": {"field": "t"}}}
  ]
}
]
}
